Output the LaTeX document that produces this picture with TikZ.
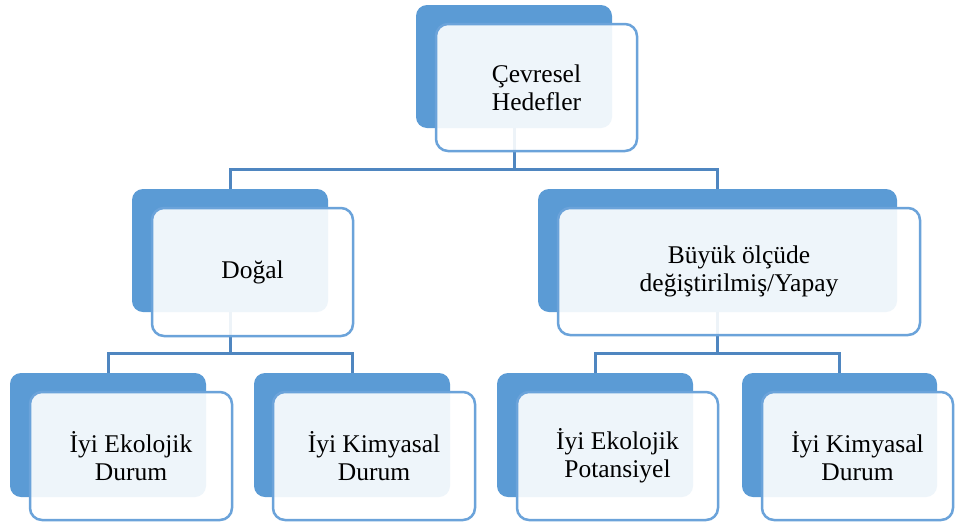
\documentclass[tikz,border=0pt]{standalone}
\usepackage{fontspec}
\setmainfont{Liberation Serif}
\definecolor{backblue}{HTML}{5B9BD5}
\definecolor{lineblue}{HTML}{4F86C0}
\definecolor{edgeblue}{HTML}{6BA3DA}
\begin{document}
\begin{tikzpicture}[x=1pt,y=-1pt,
  backbox/.style={rectangle, rounded corners=11pt, fill=backblue, inner sep=0pt, outer sep=0pt},
  frontbox/.style={rectangle, rounded corners=12pt, draw=edgeblue, line width=2.5pt, fill=white, fill opacity=0.9, draw opacity=1, text opacity=1, inner sep=0pt, outer sep=0pt, align=center, font=\fontsize{25.5}{28}\selectfont},
  link/.style={draw=lineblue, line width=3pt}]
\useasboundingbox[fill=white] (0,0) rectangle (956,523);
% back boxes
\node[backbox, minimum width=196pt, minimum height=123pt] (b0) at (514,66.5) {};
\node[backbox, minimum width=196pt, minimum height=123pt] (b1) at (230,250.5) {};
\node[backbox, minimum width=359pt, minimum height=123pt] (b2) at (717.5,250.5) {};
\node[backbox, minimum width=196pt, minimum height=124pt] (b11) at (108,435) {};
\node[backbox, minimum width=196pt, minimum height=124pt] (b12) at (352,435) {};
\node[backbox, minimum width=196pt, minimum height=124pt] (b21) at (595,435) {};
\node[backbox, minimum width=195pt, minimum height=124pt] (b22) at (839.5,435) {};
% junctions
\coordinate (j0) at (514,169);
\coordinate (j1) at (230,353);
\coordinate (j2) at (717.5,353);
% connectors
\draw[link] (b0.south) -- (j0) -| (b1.north);
\draw[link] (j0) -| (b2.north);
\draw[link] (b1.south) -- (j1) -| (b11.north);
\draw[link] (j1) -| (b12.north);
\draw[link] (b2.south) -- (j2) -| (b21.north);
\draw[link] (j2) -| (b22.north);
% front boxes
\node[frontbox, minimum width=201pt, minimum height=127pt] (f0) at (536.5,87.5) {Çevresel\\Hedefler};
\node[frontbox, minimum width=201pt, minimum height=128pt] (f1) at (252.5,272) {Doğal};
\node[frontbox, minimum width=362pt, minimum height=127pt] (f2) at (739,271.5) {Büyük ölçüde\\değiştirilmiş/Yapay};
\node[frontbox, minimum width=202pt, minimum height=128pt] (f11) at (131,456) {İyi Ekolojik\\Durum};
\node[frontbox, minimum width=202pt, minimum height=128pt] (f12) at (374,456) {İyi Kimyasal\\Durum};
\node[frontbox, minimum width=201pt, minimum height=128pt] (f21) at (617.5,456) {İyi Ekolojik\\Potansiyel};
\node[frontbox, minimum width=191pt, minimum height=128pt] (f22) at (857.5,456) {İyi Kimyasal\\Durum};
\end{tikzpicture}
\end{document}
